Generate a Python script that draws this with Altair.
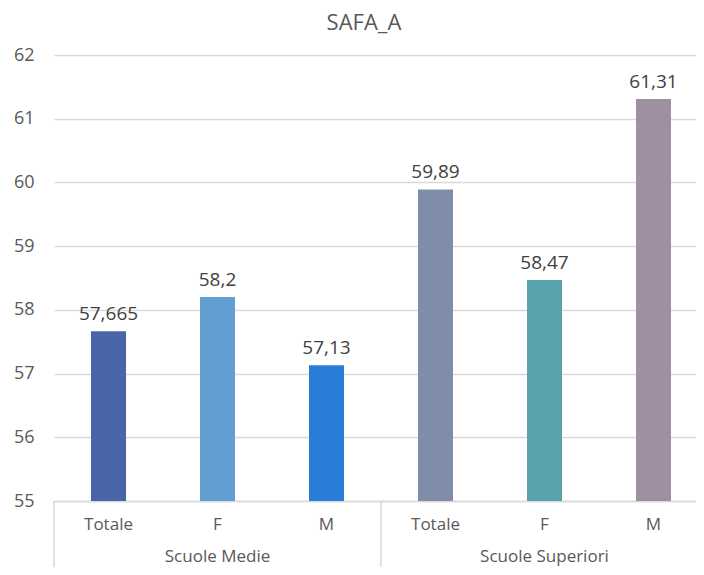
import altair as alt
import pandas as pd

groups = ["Scuole Medie", "Scuole Medie", "Scuole Medie",
          "Scuole Superiori", "Scuole Superiori", "Scuole Superiori"]
subcats = ["Totale", "F", "M", "Totale", "F", "M"]
values = [57.665, 58.2, 57.13, 59.89, 58.47, 61.31]
colors = ["#4865A8", "#629ED2", "#297DD6", "#7F8DA8", "#58A2AE", "#9E8FA1"]
y_ticks = [55, 56, 57, 58, 59, 60, 61, 62]

keys = [f"{g}|{s}" for g, s in zip(groups, subcats)]
df = pd.DataFrame({"key": keys, "group": groups, "sub": subcats,
                   "value": values, "color": colors})

group_names = ["Scuole Medie", "Scuole Superiori"]
grp_df = pd.DataFrame({"group": group_names,
                       "key": [f"{g}|F" for g in group_names],
                       "start": [f"{g}|Totale" for g in group_names]})

W, H = 642, 446
FONT = "Open Sans"
GRAY = "#595959"

x_scale = alt.Scale(domain=keys, range=[0, 654], paddingInner=0, paddingOuter=0)

base = alt.Chart(df)

bars = base.mark_bar(size=35).encode(
    x=alt.X("key:N", scale=x_scale, sort=keys,
            axis=alt.Axis(title=None, labelExpr="split(datum.label, '|')[1]",
                          labelAngle=0, ticks=False, domain=True,
                          domainColor="#D9D9D9", domainWidth=1.5,
                          labelPadding=15, labelFontSize=17,
                          labelColor=GRAY, labelFont=FONT)),
    y=alt.Y("value:Q",
            scale=alt.Scale(domain=[55, 62], nice=False, zero=False, clamp=True),
            axis=alt.Axis(title=None, values=y_ticks, format="d", ticks=False,
                          domain=False, grid=True, gridColor="#D9D9D9",
                          gridWidth=1.5, labelPadding=20, labelFontSize=18,
                          labelColor=GRAY, labelFont=FONT)),
    color=alt.Color("color:N", scale=None, legend=None),
)

labels = base.transform_calculate(
    lab="replace(toString(datum.value), '.', ',')"
).mark_text(baseline="alphabetic", dy=-11, fontSize=19, color="#404040",
            font=FONT).encode(
    x=alt.X("key:N", scale=x_scale, sort=keys),
    y="value:Q",
    text="lab:N",
)

grp_labels = alt.Chart(grp_df).mark_text(
    baseline="middle", fontSize=17, color=GRAY, font=FONT
).encode(
    x=alt.X("key:N", scale=x_scale, sort=keys),
    y=alt.value(H + 56),
    text="group:N",
)

dividers = alt.Chart(grp_df).mark_rule(color="#D9D9D9", strokeWidth=1.5).encode(
    x=alt.X("start:N", scale=x_scale, sort=keys, bandPosition=0),
    y=alt.value(H),
    y2=alt.value(H + 66),
)

chart = alt.layer(bars, labels, grp_labels, dividers).properties(
    width=W, height=H,
    title=alt.TitleParams("SAFA_A", fontSize=22, font=FONT, color=GRAY,
                          fontWeight="normal", anchor="middle", dx=-11, offset=11),
    autosize=alt.AutoSizeParams(type="none"),
    padding={"left": 46, "top": 47, "right": 0, "bottom": 66},
).configure_view(stroke=None)

chart.save("out.html", embed_options={"renderer": "svg", "actions": False})
